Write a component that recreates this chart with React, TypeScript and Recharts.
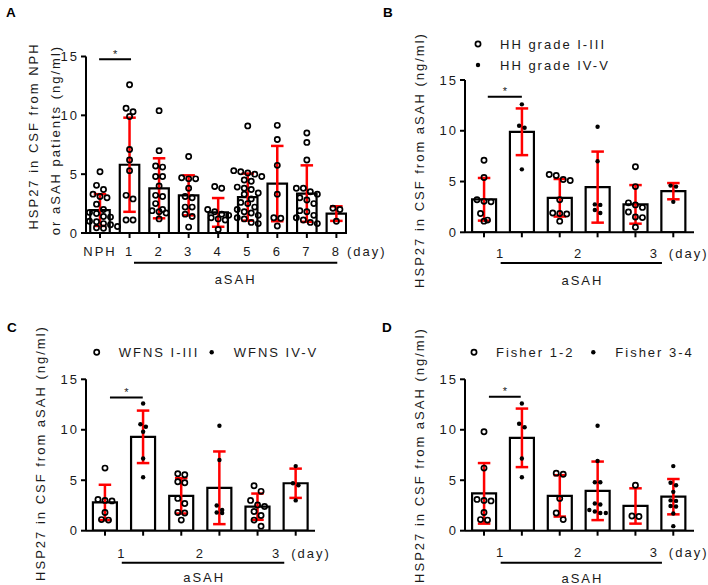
import React from "react";
import { ComposedChart, Bar, ErrorBar, Scatter, XAxis, YAxis } from "recharts";

const FONT = '"Liberation Sans", Arial, Helvetica, sans-serif';
const INK = "#1a1a1a";
const RED = "#ff0000";
const Y_TICKS = [0, 5, 10, 15];

// A: NPH vs aSAH, day 1-8
const aCats = ["NPH", "1", "2", "3", "4", "5", "6", "7", "8"];
const aMeans = [1.95, 5.8, 3.8, 3.2, 1.75, 3.05, 4.2, 3.35, 1.65];
const aSD = [1.35, 4.0, 2.55, 1.7, 1.22, 2.0, 3.2, 2.4, 0.62];
const aPoints = [
  [5.2, 4.05, 3.7, 3.3, 3.1, 3.0, 2.45, 2.0, 1.75, 1.65, 1.4, 1.35, 1.1, 1.0, 0.95, 0.8, 0.7, 0.55, 0.45, 0.4],
  [12.6, 10.6, 10.3, 9.9, 7.1, 6.2, 5.3, 3.2, 2.9, 1.1, 1.1],
  [10.4, 7.0, 5.7, 5.6, 4.8, 4.8, 4.0, 3.2, 3.1, 2.5, 2.0, 1.9, 1.8, 1.7, 1.2],
  [6.5, 4.7, 4.6, 4.6, 3.8, 3.1, 3.0, 2.2, 2.2, 1.6, 1.4, 0.5],
  [3.95, 3.8, 2.0, 1.8, 1.6, 1.5, 1.3, 1.2, 1.1, 0.3],
  [9.1, 5.3, 5.2, 5.1, 5.0, 4.8, 4.5, 4.4, 3.9, 3.8, 3.7, 3.4, 3.3, 2.9, 2.6, 2.5, 2.2, 2.0, 1.8, 1.7, 1.5, 1.3, 1.2, 0.9, 0.8],
  [9.15, 7.95, 5.75, 3.3, 1.3, 1.25, 0.6],
  [8.5, 7.7, 6.2, 3.8, 3.8, 3.5, 3.3, 3.0, 2.8, 2.5, 1.9, 1.8, 1.5, 1.3, 1.1, 0.9, 0.8],
  [2.1, 2.0, 1.0],
];

// B: HH grade, bars alternate I-III / IV-V for day 1, 2, 3
const bLegend = ["HH grade I-III", "HH grade IV-V"];
const bMeans = [3.25, 9.9, 3.4, 4.45, 2.75, 4.05];
const bSD = [2.1, 2.3, 1.85, 3.5, 1.9, 0.8];
const bPoints = [
  [7.1, 5.4, 3.2, 3.05, 3.0, 1.85, 1.2, 1.1],
  [12.6, 10.5, 10.3, 6.2],
  [5.7, 5.6, 5.2, 5.1, 3.2, 1.9, 1.85, 1.8, 1.1],
  [10.4, 7.0, 2.75, 2.7, 2.2, 1.9],
  [6.45, 4.5, 2.9, 2.7, 2.45, 2.0, 1.5, 1.45, 0.5],
  [4.6, 4.5, 3.0],
];

// C: WFNS
const cLegend = ["WFNS I-III", "WFNS IV-V"];
const cMeans = [2.8, 9.3, 3.45, 4.25, 2.38, 4.7];
const cSD = [1.75, 2.6, 1.75, 3.6, 1.3, 1.45];
const cPoints = [
  [6.2, 3.1, 3.0, 2.95, 1.8, 1.1, 1.05],
  [12.6, 10.55, 10.3, 9.8, 7.15, 5.3],
  [5.65, 5.55, 4.85, 4.75, 3.2, 2.7, 1.8, 1.75, 1.05],
  [10.4, 7.0, 2.5, 2.05, 1.8, 1.75],
  [4.45, 3.9, 3.0, 2.55, 2.4, 1.9, 1.5, 1.05, 0.45],
  [6.4, 4.7, 4.5, 3.0],
];

// D: Fisher
const dLegend = ["Fisher 1-2", "Fisher 3-4"];
const dMeans = [3.7, 9.2, 3.45, 3.95, 2.45, 3.37];
const dSD = [3.0, 2.9, 2.05, 2.9, 1.75, 1.75];
const dPoints = [
  [9.8, 6.2, 3.1, 3.0, 2.95, 1.8, 1.1, 1.05],
  [12.6, 10.6, 10.25, 7.15, 5.3],
  [5.7, 5.6, 3.2, 1.75, 1.1],
  [10.4, 6.9, 4.8, 4.8, 2.7, 2.6, 2.05, 1.9, 1.75, 1.75],
  [4.5, 1.45, 1.4],
  [6.4, 4.75, 4.5, 3.85, 3.0, 2.95, 2.45, 2.4, 1.7, 0.45],
];

const dayLabels = ["1", "2", "3"];
const dayPos = [0.44, 2.5, 4.5];

type Geo = {
  left: number; top: number; width: number; height: number;
  plotL: number; plotR: number; plotT: number; plotB: number;
  xMin: number; xMax: number;
};

const geoA: Geo = { left: 0, top: 0, width: 354, height: 290, plotL: 86, plotR: 347, plotT: 56.5, plotB: 233, xMin: -0.474, xMax: 8.359 };
const geoB: Geo = { left: 354, top: 0, width: 354, height: 290, plotL: 465, plotR: 694, plotT: 80, plotB: 232.3, xMin: -0.502, xMax: 5.547 };
const geoC: Geo = { left: 0, top: 290, width: 354, height: 295, plotL: 86, plotR: 315, plotT: 379.3, plotB: 530.7, xMin: -0.498, xMax: 5.506 };
const geoD: Geo = { left: 354, top: 290, width: 354, height: 295, plotL: 465, plotR: 694, plotT: 379.3, plotB: 530.7, xMin: -0.502, xMax: 5.547 };

const XH = 30;

const px = (g: Geo, v: number) => g.plotL + ((v - g.xMin) / (g.xMax - g.xMin)) * (g.plotR - g.plotL);
const py = (g: Geo, v: number) => g.plotB - (v / 15) * (g.plotB - g.plotT);

// spread dots sideways in rows, like a column scatter
function swarm(groups: number[][], g: Geo, gap: number, keep: (i: number) => boolean) {
  const sx = (g.plotR - g.plotL) / (g.xMax - g.xMin);
  const sy = (g.plotB - g.plotT) / 15;
  const out: { x: number; y: number }[] = [];
  groups.forEach((vals, i) => {
    if (!keep(i)) return;
    const rows: number[][] = [];
    [...vals].sort((a, b) => b - a).forEach((v) => {
      const row = rows[rows.length - 1];
      if (row && (row[0] - v) * sy < gap) row.push(v);
      else rows.push([v]);
    });
    rows.forEach((row) =>
      row.forEach((v, k) => out.push({ x: i + ((k - (row.length - 1) / 2) * gap) / sx, y: v }))
    );
  });
  return out;
}

const OpenDot = (p: any) => <circle cx={p.cx} cy={p.cy} r={2.6} fill="none" stroke="#000" strokeWidth={1.7} />;
const FilledDot = (p: any) => <circle cx={p.cx} cy={p.cy} r={2.2} fill="#000" />;

const tickStyle = { fontSize: 13, fill: INK, fontFamily: FONT, letterSpacing: 2 };
const axisStroke = { stroke: "#000", strokeWidth: 2 };

function Panel({ g, means, sds, groups, barSize, cats, split }: {
  g: Geo; means: number[]; sds: number[]; groups: number[][]; barSize: number; cats?: string[]; split: boolean;
}) {
  const bars = means.map((m, i) => ({ x: i, mean: m, sd: sds[i] }));
  const open = swarm(groups, g, 7, (i) => !split || i % 2 === 0);
  const filled = split ? swarm(groups, g, 5.5, (i) => i % 2 === 1) : [];
  return (
    <div style={{ position: "absolute", left: g.left, top: g.top }}>
      <ComposedChart
        width={g.width}
        height={g.height}
        data={bars}
        margin={{ top: g.plotT - g.top, right: g.left + g.width - g.plotR, bottom: g.top + g.height - g.plotB - XH, left: 0 }}
      >
        <XAxis
          xAxisId="bars"
          type="number"
          dataKey="x"
          domain={[g.xMin, g.xMax]}
          allowDataOverflow
          ticks={means.map((_, i) => i)}
          interval={0}
          height={XH}
          axisLine={axisStroke}
          tickLine={axisStroke}
          tickSize={5}
          tickMargin={8.5}
          tick={tickStyle}
          tickFormatter={(v: number) => (cats ? cats[v] : "")}
        />
        <XAxis xAxisId="dots" type="number" dataKey="x" domain={[g.xMin, g.xMax]} allowDataOverflow hide />
        <YAxis
          type="number"
          domain={[0, 15]}
          allowDataOverflow
          ticks={Y_TICKS}
          interval={0}
          width={g.plotL - g.left}
          axisLine={axisStroke}
          tickLine={axisStroke}
          tickSize={5}
          tickMargin={2}
          tick={tickStyle}
        />
        <Bar xAxisId="bars" dataKey="mean" barSize={barSize} fill="#fff" stroke="#000" strokeWidth={2.2} isAnimationActive={false}>
          <ErrorBar dataKey="sd" width={6.25} stroke={RED} strokeWidth={2.5} direction="y" isAnimationActive={false} />
        </Bar>
        <Scatter xAxisId="dots" data={open} dataKey="y" shape={OpenDot} isAnimationActive={false} />
        {split && <Scatter xAxisId="dots" data={filled} dataKey="y" shape={FilledDot} isAnimationActive={false} />}
      </ComposedChart>
    </div>
  );
}

const txt = { fontFamily: FONT, fontSize: 13, fill: INK, letterSpacing: "2px" };

function YTitle({ x, y, text }: { x: number; y: number; text: string }) {
  return (
    <text x={x} y={y} transform={`rotate(-90 ${x} ${y})`} textAnchor="middle" dominantBaseline="central" style={txt}>
      {text}
    </text>
  );
}

function Letter({ x, y, text }: { x: number; y: number; text: string }) {
  return (
    <text x={x} y={y} style={{ fontFamily: FONT, fontSize: 13.5, fontWeight: 700, fill: "#000" }}>
      {text}
    </text>
  );
}

function Sig({ g, x1, x2, y }: { g: Geo; x1: number; x2: number; y: number }) {
  const yy = py(g, y);
  return (
    <g>
      <line x1={px(g, x1)} x2={px(g, x2)} y1={yy} y2={yy} stroke="#000" strokeWidth={2} />
      <text x={px(g, (x1 + x2) / 2)} y={yy - 1.5} textAnchor="middle" style={{ fontFamily: FONT, fontSize: 11, fill: INK }}>
        *
      </text>
    </g>
  );
}

function LegendItem({ x, y, filled, label }: { x: number; y: number; filled: boolean; label: string }) {
  return (
    <g>
      {filled ? <FilledDot cx={x} cy={y} /> : <OpenDot cx={x} cy={y} />}
      <text x={x + 22} y={y} dominantBaseline="central" style={txt}>{label}</text>
    </g>
  );
}

function DayAxis({ g, labelY, lineY, titleY }: { g: Geo; labelY: number; lineY: number; titleY: number }) {
  return (
    <g>
      {dayLabels.map((d, i) => (
        <text key={d} x={px(g, dayPos[i])} y={labelY} textAnchor="middle" dominantBaseline="central" style={txt}>{d}</text>
      ))}
      <text x={px(g, dayPos[2]) + 14.5} y={labelY} dominantBaseline="central" style={txt}>(day)</text>
      <line x1={px(g, 0.44)} x2={px(g, 4.7)} y1={lineY} y2={lineY} stroke="#000" strokeWidth={2} />
      <text x={px(g, 2.6)} y={titleY} textAnchor="middle" dominantBaseline="central" style={txt}>aSAH</text>
    </g>
  );
}

export default function App() {
  return (
    <div style={{ position: "absolute", left: 0, top: 0, width: 708, height: 585, background: "#fff", overflow: "hidden" }}>
      <Panel g={geoA} means={aMeans} sds={aSD} groups={aPoints} barSize={19.5} cats={aCats} split={false} />
      <Panel g={geoB} means={bMeans} sds={bSD} groups={bPoints} barSize={24} split />
      <Panel g={geoC} means={cMeans} sds={cSD} groups={cPoints} barSize={24} split />
      <Panel g={geoD} means={dMeans} sds={dSD} groups={dPoints} barSize={24} split />
      <svg width={708} height={585} style={{ position: "absolute", left: 0, top: 0, pointerEvents: "none" }}>
        {/* A */}
        <Letter x={6} y={17} text="A" />
        <YTitle x={33} y={136} text="HSP27 in CSF from NPH" />
        <YTitle x={55} y={140} text="or aSAH patients (ng/ml)" />
        <Sig g={geoA} x1={-0.03} x2={1.05} y={14.76} />
        <text x={px(geoA, 8) + 10.5} y={251} dominantBaseline="central" style={txt}>(day)</text>
        <line x1={px(geoA, 1.15)} x2={px(geoA, 8.03)} y1={262.7} y2={262.7} stroke="#000" strokeWidth={2} />
        <text x={px(geoA, 4.59)} y={279.3} textAnchor="middle" dominantBaseline="central" style={txt}>aSAH</text>

        {/* B */}
        <Letter x={383} y={17} text="B" />
        <YTitle x={419} y={160} text="HSP27 in CSF from aSAH (ng/ml)" />
        <LegendItem x={478} y={44} filled={false} label={bLegend[0]} />
        <LegendItem x={478} y={65} filled label={bLegend[1]} />
        <Sig g={geoB} x1={0.1} x2={1.0} y={13.36} />
        <DayAxis g={geoB} labelY={253} lineY={263} titleY={280} />

        {/* C */}
        <Letter x={7} y={332} text="C" />
        <YTitle x={40} y={453} text="HSP27 in CSF from aSAH (ng/ml)" />
        <LegendItem x={96.7} y={352.3} filled={false} label={cLegend[0]} />
        <LegendItem x={211.7} y={352.3} filled label={cLegend[1]} />
        <Sig g={geoC} x1={0.13} x2={0.99} y={13.2} />
        <DayAxis g={geoC} labelY={553.3} lineY={562.7} titleY={577} />

        {/* D */}
        <Letter x={382} y={332} text="D" />
        <YTitle x={419} y={455} text="HSP27 in CSF from aSAH (ng/ml)" />
        <LegendItem x={474} y={352.3} filled={false} label={dLegend[0]} />
        <LegendItem x={593.3} y={352.3} filled label={dLegend[1]} />
        <Sig g={geoD} x1={0.13} x2={0.97} y={13.28} />
        <DayAxis g={geoD} labelY={552.3} lineY={562.7} titleY={578.3} />
      </svg>
    </div>
  );
}
